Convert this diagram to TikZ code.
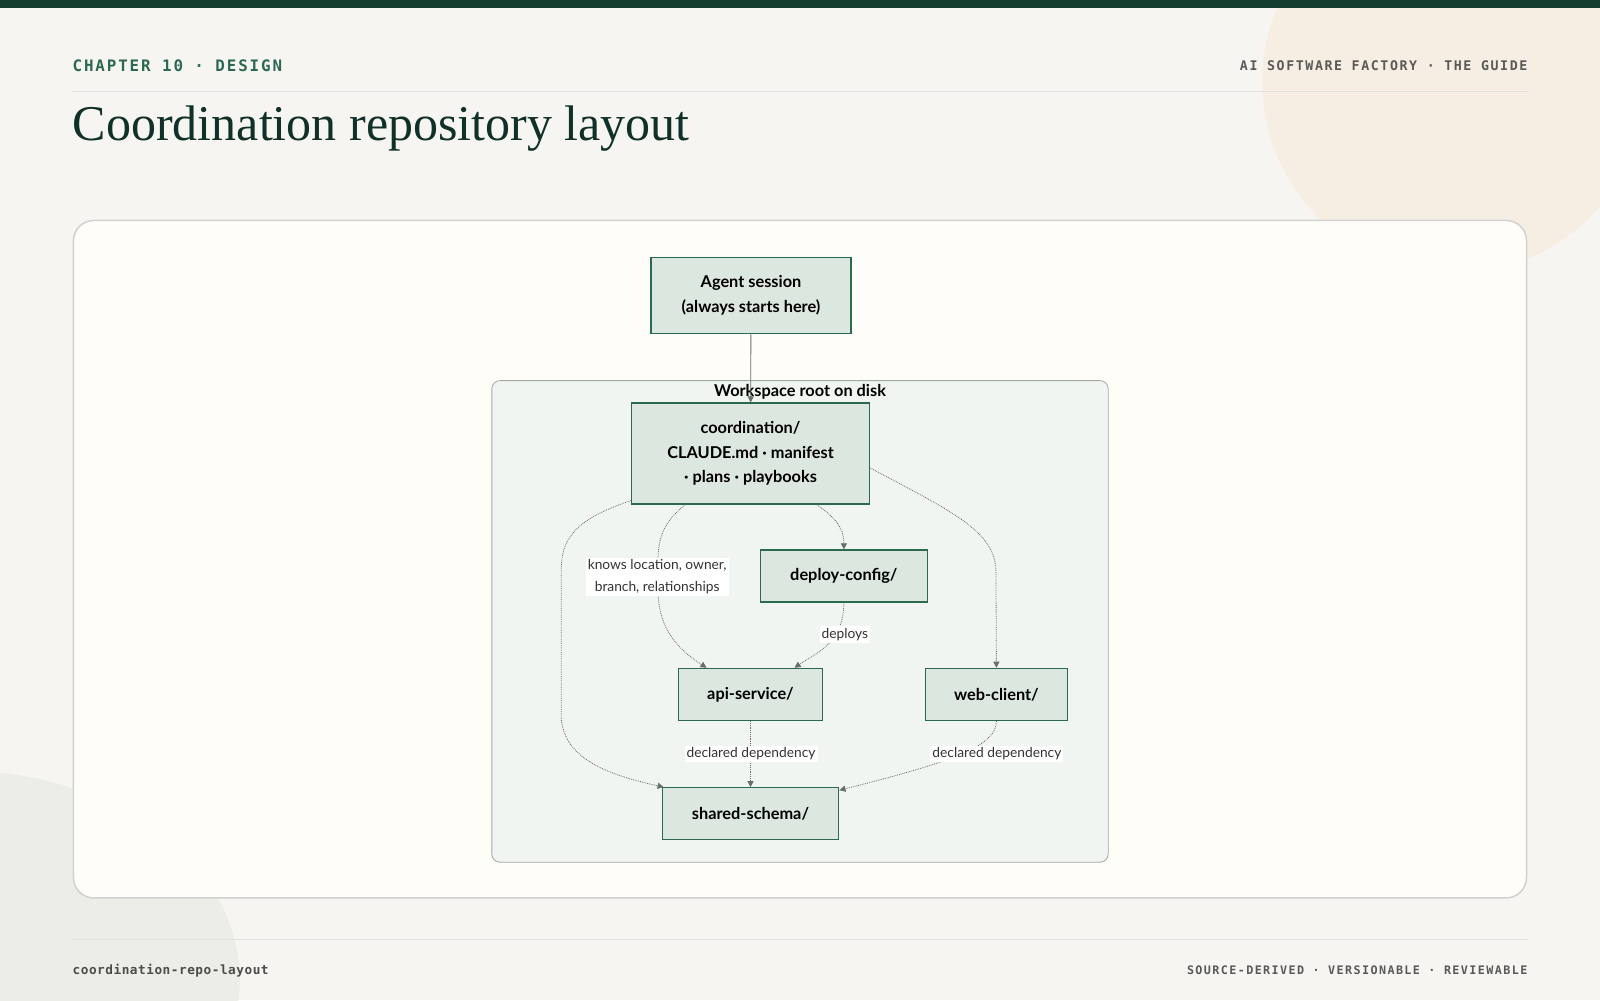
\documentclass[tikz,border=0pt]{standalone}
\usepackage{fontspec}
\setmainfont{Liberation Serif}
\newfontfamily\uisans{Lato}
\newfontfamily\uimono{DejaVu Sans Mono}[LetterSpace=12]
\newfontfamily\uimonotight{DejaVu Sans Mono}[LetterSpace=4]
\usetikzlibrary{arrows.meta,positioning}
\definecolor{pageBg}{HTML}{F6F5F1}
\definecolor{barGreen}{HTML}{143D30}
\definecolor{cardBg}{HTML}{FEFDF8}
\definecolor{boxFill}{HTML}{DCE7DF}
\definecolor{boxLine}{HTML}{2C6A50}
\definecolor{zoneFill}{HTML}{F0F5F1}
\definecolor{edgeGray}{HTML}{66706B}
\tikzset{
  dir/.style={draw=boxLine, line width=1.2pt, fill=boxFill, font=\uisans\bfseries\fontsize{16}{24}\selectfont,
    align=center, inner sep=0pt},
  link/.style={draw=edgeGray, densely dotted, line width=0.8pt, -{Triangle[length=6pt,width=6pt]}},
  tag/.style={fill=white, font=\uisans\fontsize{13.5}{21}\selectfont, align=center, inner sep=2pt, text=black!80}
}
\begin{document}
\begin{tikzpicture}[x=1pt,y=-1pt]
        \useasboundingbox (0,0) rectangle (1568,980);
        \fill[pageBg] (0,0) rectangle (1568,980);
        \begin{scope}
          \clip (0,0) rectangle (1568,980);
          \fill[color={rgb,255:red,246;green,238;blue,226}] (1425,80) circle (188);
          \fill[color={rgb,255:red,237;green,237;blue,231}] (-40,960) ellipse (275 and 205);
        \end{scope}
        \fill[barGreen] (0,0) rectangle (1568,8);

        % header and footer
        \node (chap) at (71,64) [anchor=west, inner sep=0pt, text=boxLine] {\uimono\bfseries\fontsize{15.5}{18}\selectfont CHAPTER 10 · DESIGN};
        \node (guide) at (1497,64) [anchor=east, inner sep=0pt, text=black!65] {\uimono\bfseries\fontsize{13}{16}\selectfont AI SOFTWARE FACTORY · THE GUIDE};
        \draw[black!12] (71,89) -- (1497,89);
        \node (title) at (68,126) [anchor=west, text=barGreen!80!black] {\fontsize{49}{56}\selectfont Coordination repository layout};
        \draw[black!12] (71,920) -- (1497,920);
        \node (slug) at (71,951) [anchor=west, inner sep=0pt, text=black!70] {\uimonotight\bfseries\fontsize{12.5}{14}\selectfont coordination-repo-layout};
        \node (motto) at (1497,951) [anchor=east, inner sep=0pt, text=black!65] {\uimono\bfseries\fontsize{11.5}{14}\selectfont SOURCE-DERIVED · VERSIONABLE · REVIEWABLE};

        % card and workspace
        \draw[black!18, line width=1.5pt, fill=cardBg, rounded corners=20pt] (72,216) rectangle (1496,880);
        \draw[edgeGray!60, line width=0.8pt, fill=zoneFill, rounded corners=8pt] (482,373) rectangle (1086,845);
        \node (zone) at (784,384) {\uisans\bfseries\fontsize{16}{18}\selectfont Workspace root on disk};

        % directories
        \node[dir, minimum width=196pt, minimum height=75pt] (agent) at (736,289.5) {Agent session\\(always starts here)};
        \node[dir, minimum width=233pt, minimum height=99pt] (coord) at (735.5,444.5) {coordination/\\CLAUDE.md · manifest\\· plans · playbooks};
        \node[dir, minimum width=164pt, minimum height=51pt] (deploy) at (827,564.5) {deploy-config/};
        \node[dir, minimum width=141pt, minimum height=51pt] (api) at (735.5,680.5) {api-service/};
        \node[dir, minimum width=139pt, minimum height=51pt] (web) at (976.5,680.5) {web-client/};
        \node[dir, minimum width=173pt, minimum height=51pt] (shared) at (735.5,797.5) {shared-schema/};

        % links
        \draw[draw=edgeGray, line width=0.8pt, -{Triangle[length=6pt,width=6pt]}] (agent) -- (coord);
        \draw[link] (coord.south west) ++(0,-4) .. controls (560,510) and (550,530) .. (550,560)
            -- (550,700) .. controls (550,745) and (600,760) .. ([xshift=2pt]shared.north west);
        \draw[link] ([xshift=53pt]coord.south west) .. controls (640,520) and (645,540) .. (645,580)
            .. controls (645,620) and (670,640) .. ([xshift=28pt]api.north west);
        \node[tag] (knows) at (644,565) {knows location, owner,\\branch, relationships};
        \draw[link] ([xshift=-52pt]coord.south east) .. controls (815,505) and (827,515) .. (deploy.north);
        \draw[link] ([yshift=-14pt]coord.east) .. controls (930,500) and (976,520) .. (976,560) -- (web.north);
        \draw[link] (deploy.south) .. controls (827,630) and (800,640) .. ([xshift=-28pt]api.north east);
        \node[tag] (deploys) at (828,622) {deploys};
        \draw[link] (api) -- (shared);
        \node[tag] (dep1) at (736,739) {declared dependency};
        \draw[link] (web.south) .. controls (976,730) and (940,745) .. ([yshift=-3pt]shared.north east);
        \node[tag] (dep2) at (977,739) {declared dependency};
\end{tikzpicture}
\end{document}
